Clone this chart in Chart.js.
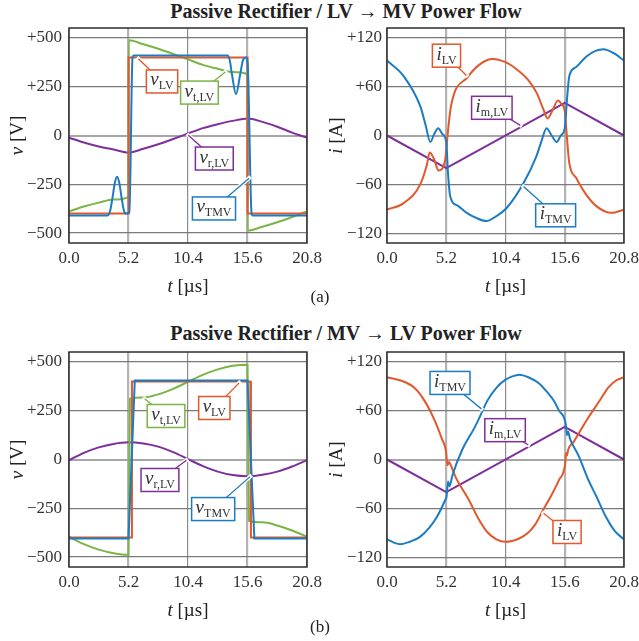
<!DOCTYPE html>
<html>
<head>
<meta charset="utf-8">
<script src="https://cdn.jsdelivr.net/npm/chart.js@4.4.0/dist/chart.umd.min.js"></script>
<style>
  body { margin: 0; width: 639px; height: 641px; overflow: hidden; background: #fff; position: relative; font-family: "Liberation Serif", serif; color: #222; }
  .panel { position: absolute; }
  .title { position: absolute; left: 346px; transform: translateX(-50%); white-space: nowrap; font-weight: bold; font-size: 20px; }
  .tag { position: absolute; left: 320px; transform: translateX(-50%); font-size: 17px; }
</style>
</head>
<body>
<div class="title" style="top:0">Passive Rectifier / LV → MV Power Flow</div>
<div class="panel" style="left:0;top:0"><canvas id="va" width="340" height="300"></canvas></div>
<div class="panel" style="left:320px;top:0"><canvas id="ia" width="340" height="300"></canvas></div>
<div class="tag" style="top:287px">(a)</div>

<div class="title" style="top:322px">Passive Rectifier / MV → LV Power Flow</div>
<div class="panel" style="left:0;top:320px"><canvas id="vb" width="340" height="300"></canvas></div>
<div class="panel" style="left:320px;top:320px"><canvas id="ib" width="340" height="300"></canvas></div>
<div class="tag" style="top:617px">(b)</div>

<script>
const tTicks = [0, 5.2, 10.4, 15.6, 20.8]
const vTicks = [-500, -250, 0, 250, 500]
const iTicks = [-120, -60, 0, 60, 120]

// (a) LV -> MV, voltages
const aVlvT  = [0, 5.2, 5.21, 15.6, 15.61, 20.8]
const aVlv   = [-400, -400, 400, 400, -400, -400]
const aVtlvT = [0, 1.3, 2.6, 3.9, 5.2, 5.22, 6.5, 7.8, 9.1, 10.4, 11.7, 13, 14.3, 15.6, 15.62, 16.9, 18.2, 19.5, 20.8]
const aVtlv  = [-389, -364, -344, -328, -314, 488, 468, 445, 418, 390, 362, 342, 325, 313, -488, -468, -445, -418, -389]
const aVtmvT = [0, 3.4, 3.6, 3.8, 4.0, 4.2, 4.4, 4.6, 4.8, 4.97, 5.28, 5.55, 5.65, 13.87, 14.05, 14.25, 14.6, 14.95, 15.2, 15.45, 15.62, 15.95, 16.05, 20.8]
const aVtmv  = [-410, -410, -385, -320, -245, -212, -245, -320, -385, -400, -395, 400, 410, 410, 385, 310, 212, 310, 385, 400, 360, -395, -410, -410]
const aVrT   = [0, 1.3, 2.6, 3.9, 5.2, 6.5, 7.8, 9.1, 10.4, 11.7, 13, 14.3, 15.6, 16.9, 18.2, 19.5, 20.8]
const aVr    = [-11, -36, -56, -72, -88, -68, -45, -18, 10, 38, 58, 75, 87, 70, 45, 15, -11]

// (a) LV -> MV, currents
const aIlvT  = [0, 1.46, 2.92, 3.5, 3.74, 4.1, 4.53, 5.1, 5.35, 5.6, 7.1, 8.2, 9.25, 10.4, 11.4, 12.4, 13.15, 13.7, 14.1, 14.5, 15.0, 15.3, 15.6, 15.75, 16.0, 16.6, 17.4, 18.4, 19.7, 20.8]
const aIlv   = [-91, -83, -60, -36, -21, -28, -43, -30, 5, 35, 72, 88, 94, 90, 81, 68, 52, 33, 21, 30, 43, 39, 30, 5, -34, -52, -71, -87, -95, -91]
const aItmvT = [0, 1.46, 2.92, 3.4, 3.8, 4.15, 4.5, 4.85, 5.2, 5.35, 5.55, 6.2, 7.0, 7.8, 8.7, 9.6, 10.5, 12.0, 13.1, 13.6, 14.0, 14.45, 14.9, 15.25, 15.6, 15.8, 16.0, 16.6, 17.5, 18.3, 19.0, 19.9, 20.8]
const aItmv  = [92, 73, 36, 12, -8, 2, 9, 2, -8, -45, -75, -86, -95, -101, -105, -99, -89, -58, -26, -5, 9, 0, -8, 0, 9, 45, 73, 84, 97, 104, 106, 101, 92]
const aImT   = [0, 5.2, 15.6, 20.8]
const aIm    = [0, -40, 40, 0]

// (b) MV -> LV, voltages
const bVlvT  = [0, 5.45, 5.5, 15.85, 15.9, 20.8]
const bVlv   = [-400, -400, 400, 400, -400, -400]
const bVtlvT = [0, 1.3, 2.6, 3.9, 5.2, 5.32, 6.5, 7.8, 9.1, 10.4, 11.7, 13, 14.3, 15.6, 15.72, 16.9, 18.2, 19.5, 20.8]
const bVtlv  = [-396, -434, -462, -480, -488, 312, 318, 334, 362, 398, 434, 462, 480, 486, -314, -322, -338, -364, -396]
const bVtmvT = [0, 5.2, 5.75, 15.6, 16.2, 20.8]
const bVtmv  = [-405, -405, 405, 405, -405, -405]
const bVrT   = [0, 1.3, 2.6, 3.9, 5.2, 6.5, 7.8, 9.1, 10.4, 11.7, 13, 14.3, 15.6, 16.9, 18.2, 19.5, 20.8]
const bVr    = [-4, 34, 62, 80, 88, 82, 66, 38, 2, -34, -62, -80, -86, -78, -62, -36, -4]

// (b) MV -> LV, currents
const bIlvT  = [0, 1.2, 2.4, 3.3, 4.15, 4.8, 5.18, 5.3, 5.45, 5.6, 6.0, 7.2, 8.0, 8.8, 9.6, 10.4, 11.6, 12.3, 13.0, 13.7, 14.5, 15.1, 15.62, 15.72, 15.8, 15.9, 16.4, 17.6, 18.7, 19.4, 20.1, 20.8]
const bIlv   = [101, 97, 88, 72, 49, 26, 10, -7, -3, -7, -21, -50, -72, -89, -98, -101, -97, -91, -80, -62, -42, -25, -7, 8, 5, 12, 22, 50, 73, 88, 97, 101]
const bItmvT = [0, 0.6, 1.2, 2.0, 2.9, 3.7, 4.4, 5.1, 5.22, 5.36, 5.48, 5.75, 6.6, 7.6, 8.0, 8.8, 9.6, 10.4, 11.0, 11.6, 12.4, 13.3, 14.1, 14.6, 15.1, 15.68, 15.8, 15.9, 16.05, 16.8, 17.67, 18.4, 19.2, 20.0, 20.8]
const bItmv  = [-98, -102, -104, -101, -95, -84, -70, -50, -46, -27, -33, -19, 12, 37, 48, 72, 88, 98, 102, 104, 101, 94, 82, 73, 60, 44, 30, 34, 26, 5, -25, -46, -70, -88, -98]
const bImT   = [0, 5.2, 15.6, 20.8]
const bIm    = [0, -40, 40, 0]

const ORANGE = '#e2572b'
const GREEN = '#78b544'
const BLUE = '#1b7cc3'
const PURPLE = '#7e2f9b'
const SERIF = '"Liberation Serif", "Times New Roman", serif'

function pts(t, y) {
    return t.map((x, k) => ({x: x, y: y[k]}))
}

function trace(label, t, y, color, smooth) {
    return {
        label: label,
        data: pts(t, y),
        borderColor: color,
        borderWidth: 2,
        pointRadius: 0,
        fill: false,
        tension: 0,
        cubicInterpolationMode: smooth ? 'monotone' : 'default',
    }
}

// value of a trace at time t, read along its straight segments
function valueAt(data, t) {
    for (let k = 1; k < data.length; k++) {
        if (t <= data[k].x) {
            const a = data[k - 1], b = data[k]
            return a.y + (b.y - a.y) * (t - a.x) / (b.x - a.x)
        }
    }
    return data[data.length - 1].y
}

function richWidth(ctx, parts) {
    let w = 0
    parts.forEach(p => { ctx.font = p.font; p.w = ctx.measureText(p.text).width; w += p.w })
    return w
}

function drawRich(ctx, parts, cx, base) {
    let x = cx - richWidth(ctx, parts) / 2
    ctx.textAlign = 'left'
    ctx.textBaseline = 'alphabetic'
    parts.forEach(p => {
        ctx.font = p.font
        ctx.fillText(p.text, x, base + (p.dy || 0))
        x += p.w
    })
}

function axisTitle(sym, unit) {
    return [
        {text: sym, font: 'italic 19px ' + SERIF},
        {text: ' [' + unit + ']', font: '19px ' + SERIF},
    ]
}

const panelPlugin = {
    id: 'panel',
    afterDraw(chart, args, opts) {
        const ctx = chart.ctx
        const a = chart.chartArea
        const sx = chart.scales.x, sy = chart.scales.y
        ctx.save()

        ctx.strokeStyle = '#2e2e2e'
        ctx.lineWidth = 1.5
        ctx.strokeRect(a.left, a.top, a.right - a.left, a.bottom - a.top)

        ctx.fillStyle = '#222'
        drawRich(ctx, axisTitle('t', 'µs'), (a.left + a.right) / 2, a.bottom + 49)
        ctx.save()
        ctx.translate(opts.yTitleX, (a.top + a.bottom) / 2)
        ctx.rotate(-Math.PI / 2)
        drawRich(ctx, axisTitle(opts.sym, opts.unit), 0, 7)
        ctx.restore()

        opts.callouts.forEach(c => {
            const ds = chart.data.datasets[c.ds]
            const color = ds.borderColor
            const bx = sx.getPixelForValue(c.at[0]), by = sy.getPixelForValue(c.at[1])
            const tx = sx.getPixelForValue(c.t), ty = sy.getPixelForValue(valueAt(ds.data, c.t))
            const parts = [
                {text: opts.sym, font: 'italic 19px ' + SERIF},
                {text: c.sub, font: '12px ' + SERIF, dy: 4},
            ]
            const w = richWidth(ctx, parts) + 8, h = 23

            const len = Math.hypot(tx - bx, ty - by)
            const ex = tx - (tx - bx) * 2 / len, ey = ty - (ty - by) * 2 / len
            ctx.lineCap = 'butt'
            ctx.strokeStyle = '#fff'
            ctx.lineWidth = 4
            ctx.beginPath(); ctx.moveTo(bx, by); ctx.lineTo(tx, ty); ctx.stroke()
            ctx.strokeStyle = color
            ctx.lineWidth = 1.3
            ctx.beginPath(); ctx.moveTo(bx, by); ctx.lineTo(ex, ey); ctx.stroke()

            ctx.fillStyle = '#fff'
            ctx.fillRect(bx - w / 2, by - h / 2, w, h)
            ctx.strokeStyle = color
            ctx.lineWidth = 1.5
            ctx.strokeRect(bx - w / 2, by - h / 2, w, h)
            ctx.fillStyle = '#333'
            drawRich(ctx, parts, bx, by + 4)
        })
        ctx.restore()
    }
}

function buildPanel(id, cfg) {
    const tickFont = {family: SERIF, size: 17}
    return new Chart(document.getElementById(id), {
        type: 'line',
        data: {datasets: cfg.datasets},
        options: {
            responsive: false,
            animation: false,
            events: [],
            layout: {padding: {top: cfg.top, right: cfg.right, left: 0, bottom: 0}},
            plugins: {
                legend: {display: false},
                tooltip: {enabled: false},
                panel: {sym: cfg.sym, unit: cfg.unit, yTitleX: cfg.yTitleX, callouts: cfg.callouts},
            },
            scales: {
                x: {
                    type: 'linear',
                    min: 0,
                    max: 20.8,
                    afterBuildTicks: s => { s.ticks = tTicks.map(v => ({value: v})) },
                    afterFit: s => { s.height = cfg.xHeight },
                    border: {display: false},
                    grid: {
                        drawTicks: false,
                        color: c => (c.tick && (c.tick.value === 5.2 || c.tick.value === 15.6)) ? '#b4b4b4' : '#8c8c8c',
                        lineWidth: c => (c.tick && (c.tick.value === 5.2 || c.tick.value === 15.6)) ? 2.2 : 1.2,
                    },
                    ticks: {
                        font: tickFont, color: '#333', padding: 5, maxRotation: 0, autoSkip: false,
                        callback: v => v.toFixed(1),
                    },
                },
                y: {
                    type: 'linear',
                    min: -cfg.lim,
                    max: cfg.lim,
                    afterBuildTicks: s => { s.ticks = cfg.yTicks.map(v => ({value: v})) },
                    afterFit: s => { s.width = cfg.yWidth },
                    border: {display: false},
                    grid: {
                        drawTicks: false,
                        color: c => (c.tick && c.tick.value === 0) ? '#a6a6a6' : '#7a7a7a',
                        lineWidth: c => (c.tick && c.tick.value === 0) ? 2 : 1.2,
                    },
                    ticks: {
                        font: tickFont, color: '#333', padding: cfg.yPad, autoSkip: false,
                        callback: v => v > 0 ? '+' + v : (v < 0 ? '\u2212' + (-v) : '0'),
                    },
                },
            },
        },
        plugins: [panelPlugin],
    })
}

buildPanel('va', {
    datasets: [
        trace('vTMV', aVtmvT, aVtmv, BLUE, true),
        trace('vLV', aVlvT, aVlv, ORANGE, false),
        trace('vt,LV', aVtlvT, aVtlv, GREEN, true),
        trace('vr,LV', aVrT, aVr, PURPLE, true),
    ],
    sym: 'v', unit: 'V', lim: 551, yTicks: vTicks,
    top: 28, right: 33, yWidth: 69, xHeight: 57, yPad: 7, yTitleX: 16,
    callouts: [
        {ds: 1, sub: 'LV', at: [8.13, 277], t: 5.94},
        {ds: 2, sub: 't,LV', at: [11.4, 220], t: 13.8},
        {ds: 3, sub: 'r,LV', at: [12.7, -118], t: 10.3},
        {ds: 0, sub: 'TMV', at: [12.67, -374], t: 15.87},
    ],
})

buildPanel('ia', {
    datasets: [
        trace('iTMV', aItmvT, aItmv, BLUE, true),
        trace('iLV', aIlvT, aIlv, ORANGE, true),
        trace('im,LV', aImT, aIm, PURPLE, false),
    ],
    sym: 'i', unit: 'A', lim: 132, yTicks: iTicks,
    top: 28, right: 36, yWidth: 67, xHeight: 57, yPad: 5, yTitleX: 15,
    callouts: [
        {ds: 1, sub: 'LV', at: [5.22, 98], t: 7.1},
        {ds: 2, sub: 'm,LV', at: [9.2, 34], t: 11.85},
        {ds: 0, sub: 'TMV', at: [14.8, -98], t: 11.85},
    ],
})

buildPanel('vb', {
    datasets: [
        trace('vTMV', bVtmvT, bVtmv, BLUE, false),
        trace('vLV', bVlvT, bVlv, ORANGE, false),
        trace('vt,LV', bVtlvT, bVtlv, GREEN, true),
        trace('vr,LV', bVrT, bVr, PURPLE, true),
    ],
    sym: 'v', unit: 'V', lim: 551, yTicks: vTicks,
    top: 32, right: 33, yWidth: 69, xHeight: 53, yPad: 7, yTitleX: 16,
    callouts: [
        {ds: 2, sub: 't,LV', at: [8.48, 223], t: 6.47},
        {ds: 1, sub: 'LV', at: [12.7, 264], t: 15.0},
        {ds: 3, sub: 'r,LV', at: [7.95, -105], t: 10.4},
        {ds: 0, sub: 'TMV', at: [12.6, -254], t: 15.96},
    ],
})

buildPanel('ib', {
    datasets: [
        trace('iTMV', bItmvT, bItmv, BLUE, true),
        trace('iLV', bIlvT, bIlv, ORANGE, true),
        trace('im,LV', bImT, bIm, PURPLE, false),
    ],
    sym: 'i', unit: 'A', lim: 132, yTicks: iTicks,
    top: 32, right: 36, yWidth: 67, xHeight: 53, yPad: 5, yTitleX: 15,
    callouts: [
        {ds: 0, sub: 'TMV', at: [5.53, 94], t: 8.42},
        {ds: 2, sub: 'm,LV', at: [10.36, 36], t: 12.55},
        {ds: 1, sub: 'LV', at: [15.8, -89], t: 13.6},
    ],
})
</script>
</body>
</html>
